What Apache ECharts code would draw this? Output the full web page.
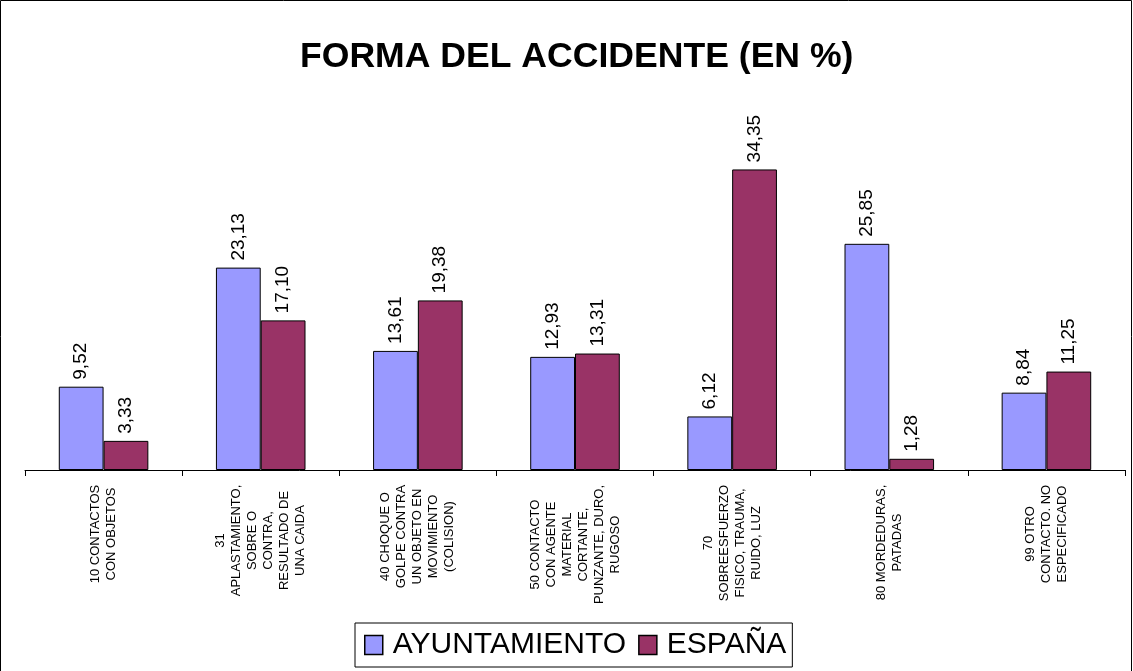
<!DOCTYPE html>
<html><head><meta charset="utf-8">
<script src="https://cdn.jsdelivr.net/npm/echarts@6/dist/echarts.min.js"></script>
<style>html,body{margin:0;padding:0;background:#fff}#c{width:1133px;height:671px}</style>
</head><body><div id="c"></div>
<script>
const title = 'FORMA DEL ACCIDENTE (EN %)';
const categories = [
  '10 CONTACTOS\nCON OBJETOS',
  '31\nAPLASTAMIENTO,\nSOBRE O\nCONTRA,\nRESULTADO DE\nUNA CAIDA',
  '40 CHOQUE O\nGOLPE CONTRA\nUN OBJETO EN\nMOVIMIENTO\n(COLISION)',
  '50 CONTACTO\nCON AGENTE\nMATERIAL\nCORTANTE,\nPUNZANTE, DURO,\nRUGOSO',
  '70\nSOBREESFUERZO\nFISICO, TRAUMA,\nRUIDO, LUZ',
  '80 MORDEDURAS,\nPATADAS',
  '99 OTRO\nCONTACTO. NO\nESPECIFICADO'
];
const seriesNames = ['AYUNTAMIENTO', 'ESPAÑA'];
const ayuntamiento = [9.52, 23.13, 13.61, 12.93, 6.12, 25.85, 8.84];
const espana = [3.33, 17.10, 19.38, 13.31, 34.35, 1.28, 11.25];

const FONT = '"Liberation Sans", Arial, sans-serif';
const catFontSize = 13;
const cv = document.createElement('canvas').getContext('2d');
cv.font = catFontSize + 'px ' + FONT;
function maxLineW(s){ return Math.ceil(Math.max(...s.split('\n').map(l => cv.measureText(l).width))) + 1; }
const rich = {};
categories.forEach((c, i) => {
  rich['w' + i] = {width: maxLineW(c), align: 'center', fontFamily: FONT, fontSize: catFontSize,
    lineHeight: 16, color: '#000'};
});
const fmt = p => p.value.toFixed(2).replace('.', ',');
const barLabel = {show: true, position: 'top', rotate: 90, align: 'left', verticalAlign: 'middle',
  distance: 7, formatter: fmt, fontFamily: FONT, fontSize: 19, color: '#000'};

const chart = echarts.init(document.getElementById('c'), null, {renderer: 'canvas'});
chart.setOption({
  backgroundColor: '#fff',
  animation: false,
  title: {text: title, left: 300, top: 39, padding: 0,
    textStyle: {fontFamily: FONT, fontSize: 35.6, fontWeight: 'bold', color: '#000'}},
  legend: {data: seriesNames, left: 355, top: 623, orient: 'horizontal',
    itemWidth: 18, itemHeight: 19, itemGap: 12, icon: 'rect',
    borderColor: '#000', borderWidth: 1, padding: [7, 6, 7, 9],
    textStyle: {fontFamily: FONT, fontSize: 30, color: '#000', padding: [0, 0, 0, 5]},
    itemStyle: {borderColor: '#000', borderWidth: 1.5}},
  graphic: [{type: 'rect', shape: {x: 0.5, y: 0.5, width: 1131, height: 700},
    style: {fill: 'none', stroke: '#000', lineWidth: 1}, silent: true, z: -1}],
  grid: {left: 25, right: 8, top: 120, bottom: 201, containLabel: false, outerBoundsMode: 'none'},
  xAxis: {type: 'category', data: categories,
    axisLine: {lineStyle: {color: '#000', width: 1}},
    axisTick: {show: true, length: 6, lineStyle: {color: '#000'}},
    axisLabel: {interval: 0, rotate: 90, margin: 14, hideOverlap: false,
      formatter: (v, i) => v.split('\n').map(l => '{w' + i + '|' + l + '}').join('\n'),
      rich: rich,
      fontFamily: FONT, fontSize: catFontSize, lineHeight: 16, color: '#000'}},
  yAxis: {type: 'value', min: 0, max: 40, show: false, splitLine: {show: false}},
  series: [
    {name: seriesNames[0], type: 'bar', data: ayuntamiento, barGap: '0%', barCategoryGap: '43%',
      itemStyle: {color: '#9999FF', borderColor: '#000', borderWidth: 1}, label: barLabel},
    {name: seriesNames[1], type: 'bar', data: espana,
      itemStyle: {color: '#993366', borderColor: '#000', borderWidth: 1}, label: barLabel}
  ]
});
</script></body></html>
